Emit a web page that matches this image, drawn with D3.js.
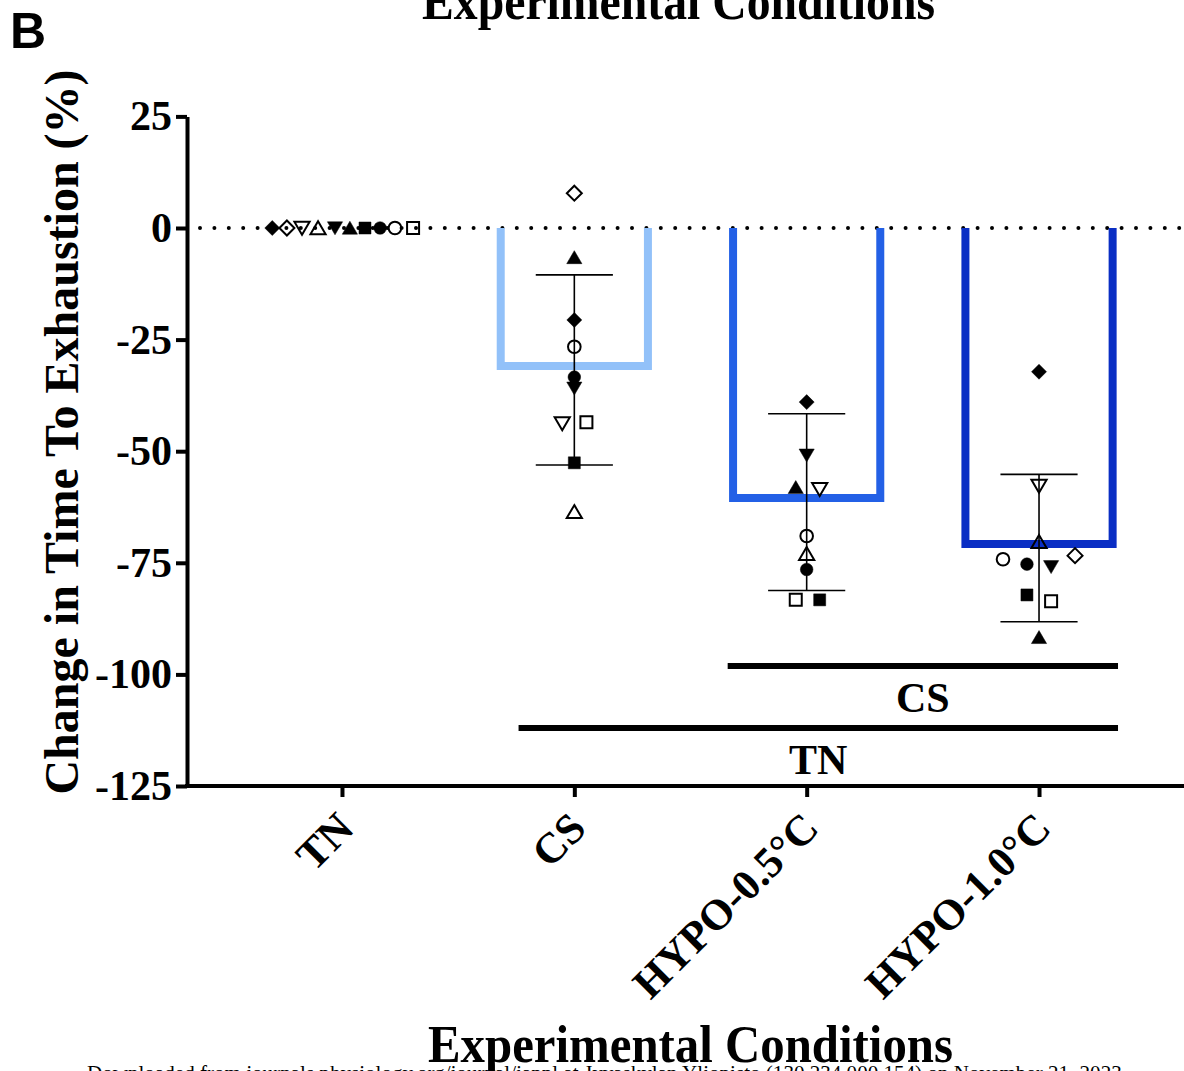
<!DOCTYPE html>
<html>
<head>
<meta charset="utf-8">
<script src="https://cdn.jsdelivr.net/npm/d3@7/dist/d3.min.js"></script>
<style>
  body { margin: 0; background: #fff; }
  svg { display: block; }
  text { font-family: "Liberation Serif", "Times New Roman", serif; font-weight: bold; fill: #000; }
</style>
</head>
<body>
<div id="chart"></div>
<script>
// conditions on the x axis
var categories = ["TN", "CS", "HYPO-0.5°C", "HYPO-1.0°C"];

var means = [0, -31.8, -61.4, -71.7];
var sds = [0, 21.3, 19.8, 16.5];

// individual subjects, same order in every condition
// 1 filled diamond, 2 open diamond, 3 filled tri, 4 open tri, 5 filled down tri,
// 6 open down tri, 7 filled circle, 8 open circle, 9 filled square, 10 open square
var tnValues = [0, 0, 0, 0, 0, 0, 0, 0, 0, 0];
var csValues = [-20.6, 7.8, -6.6, -63.6, -35.9, -43.8, -33.4, -26.6, -52.6, -43.5];
var hypo05Values = [-39.0, null, -58.1, -73.0, -50.9, -58.5, -76.5, -69.0, -83.3, -83.3];
var hypo10Values = [-32.2, -73.4, -91.7, -70.3, -75.9, -57.8, -75.3, -74.2, -82.2, -83.6];

// horizontal scatter of the points, as a fraction of the category step
var tnJitter = [-0.30, -0.237, 0.034, -0.103, -0.030, -0.172, 0.164, 0.228, 0.099, 0.306];
var csJitter = [0, 0, 0, 0, 0, -0.052, 0, 0, 0, 0.052];
var hypo05Jitter = [0, 0, -0.047, 0, 0, 0.056, 0, 0, 0.056, -0.047];
var hypo10Jitter = [0, 0.155, 0, 0, 0.052, 0, -0.052, -0.155, -0.052, 0.052];

var yTicks = [25, 0, -25, -50, -75, -100, -125];

// significance bars: [from category, to category, y value, label]
var sigBars = [
  {from: "HYPO-0.5°C", to: "HYPO-1.0°C", y: -98.1, label: "CS", pad0: -0.34, pad1: 0.34},
  {from: "CS", to: "HYPO-1.0°C", y: -112.0, label: "TN", pad0: -0.24, pad1: 0.34}
];

var markerShapes = ["diamond", "diamond", "tri", "tri", "down", "down", "circle", "circle", "square", "square"];
var markerFilled = [true, false, true, false, true, false, true, false, true, false];
var barColors = ["#000000", "#92c1f9", "#2360e6", "#0a2ec4"];

var W = 1184, H = 1071;
var svg = d3.select("#chart").append("svg").attr("width", W).attr("height", H);

var x = d3.scalePoint().domain(categories).range([187, 1194]).padding(0.667);
var y = d3.scaleLinear().domain([-125, 25]).range([786, 116.4]);
var step = x.step();

function shapePath(s) {
  if (s === "diamond") return "M0,-7.5L7.5,0L0,7.5L-7.5,0Z";
  if (s === "tri") return "M0,-6.8L7.6,6.2L-7.6,6.2Z";
  if (s === "down") return "M0,6.8L7.6,-6.2L-7.6,-6.2Z";
  if (s === "square") return "M-6,-6H6V6H-6Z";
  return d3.symbol(d3.symbolCircle, 125)();
}

// dotted zero line
svg.append("line")
  .attr("x1", 200).attr("x2", W)
  .attr("y1", y(0)).attr("y2", y(0))
  .attr("stroke", "#000").attr("stroke-width", 4)
  .attr("stroke-linecap", "round")
  .attr("stroke-dasharray", "0,14.4");

// open bars (no top edge), stroke drawn inside
var sw = 8, barW = step * 0.668;
categories.forEach(function(c, i) {
  if (means[i] === 0) return;
  var x0 = x(c) - barW / 2 + sw / 2, x1 = x(c) + barW / 2 - sw / 2;
  var yb = y(means[i]) - sw / 2;
  svg.append("path")
    .attr("d", "M" + x0 + "," + y(0) + "V" + yb + "H" + x1 + "V" + y(0))
    .attr("fill", "none")
    .attr("stroke", barColors[i])
    .attr("stroke-width", sw)
    .attr("stroke-linejoin", "miter");
});

// error bars (mean +/- SD)
var capW = step * 0.166;
categories.forEach(function(c, i) {
  if (sds[i] === 0) return;
  var g = svg.append("g").attr("stroke", "#000").attr("stroke-width", 1.6);
  var top = y(means[i] + sds[i]), bot = y(means[i] - sds[i]);
  g.append("line").attr("x1", x(c)).attr("x2", x(c)).attr("y1", top).attr("y2", bot);
  g.append("line").attr("x1", x(c) - capW).attr("x2", x(c) + capW).attr("y1", top).attr("y2", top);
  g.append("line").attr("x1", x(c) - capW).attr("x2", x(c) + capW).attr("y1", bot).attr("y2", bot);
});

// individual points
var groups = [
  {cat: "TN", vals: tnValues, jit: tnJitter},
  {cat: "CS", vals: csValues, jit: csJitter},
  {cat: "HYPO-0.5°C", vals: hypo05Values, jit: hypo05Jitter},
  {cat: "HYPO-1.0°C", vals: hypo10Values, jit: hypo10Jitter}
];
groups.forEach(function(gr) {
  gr.vals.forEach(function(v, k) {
    if (v === null) return;
    svg.append("path")
      .attr("d", shapePath(markerShapes[k]))
      .attr("transform", "translate(" + (x(gr.cat) + gr.jit[k] * step) + "," + y(v) + ")")
      .attr("fill", markerFilled[k] ? "#000" : "none")
      .attr("stroke", "#000")
      .attr("stroke-width", markerFilled[k] ? 0.5 : 2);
  });
});

// significance lines
sigBars.forEach(function(s) {
  var xa = x(s.from) + s.pad0 * step, xb = x(s.to) + s.pad1 * step;
  svg.append("line")
    .attr("x1", xa).attr("x2", xb).attr("y1", y(s.y)).attr("y2", y(s.y))
    .attr("stroke", "#000").attr("stroke-width", 6);
  svg.append("text")
    .attr("x", (xa + xb) / 2).attr("y", y(s.y) + 46)
    .attr("text-anchor", "middle")
    .style("font-size", "42px")
    .text(s.label);
});

// axes
var yAxis = svg.append("g")
  .attr("transform", "translate(187,0)")
  .call(d3.axisLeft(y).tickValues(yTicks).tickSize(11).tickSizeOuter(0).tickPadding(4)
    .tickFormat(function(d) { return String(d); }));
yAxis.selectAll("path, line").attr("stroke", "#000").attr("stroke-width", 4);
yAxis.selectAll("text").style("font-size", "42px");

var xAxis = svg.append("g")
  .attr("transform", "translate(0,786)")
  .call(d3.axisBottom(x).tickSize(11).tickSizeOuter(0));
xAxis.selectAll("path, line").attr("stroke", "#000").attr("stroke-width", 4);
xAxis.select(".domain").attr("d", "M185,0H" + (W + 10));
xAxis.selectAll("text")
  .attr("dy", null).attr("y", 41).attr("x", -22)
  .attr("transform", "rotate(-45)")
  .style("text-anchor", "end")
  .style("font-size", "43px");

yAxis.attr("font-family", null);
xAxis.attr("font-family", null);

// axis titles
svg.append("text")
  .attr("transform", "translate(78,432) rotate(-90)")
  .attr("text-anchor", "middle")
  .style("font-size", "48px")
  .text("Change in Time To Exhaustion (%)");

svg.append("text")
  .attr("x", 428).attr("y", 1062)
  .attr("textLength", 525).attr("lengthAdjust", "spacingAndGlyphs")
  .style("font-size", "53px")
  .text("Experimental Conditions");

// clipped title from the panel above
svg.append("text")
  .attr("x", 422).attr("y", 19)
  .attr("textLength", 513).attr("lengthAdjust", "spacingAndGlyphs")
  .style("font-size", "53px")
  .text("Experimental Conditions");

// panel letter
svg.append("text")
  .attr("x", 10).attr("y", 48)
  .style("font-family", "'Liberation Sans', Arial, sans-serif")
  .style("font-size", "50px")
  .text("B");

// download watermark, mostly cut off
svg.append("text")
  .attr("x", 87).attr("y", 1080)
  .attr("textLength", 1040).attr("lengthAdjust", "spacingAndGlyphs")
  .style("font-weight", "normal")
  .style("font-size", "21px")
  .text("Downloaded from journals.physiology.org/journal/jappl at Jyvaskylan Yliopisto (130.234.000.154) on November 21, 2023.");
</script>
</body>
</html>
